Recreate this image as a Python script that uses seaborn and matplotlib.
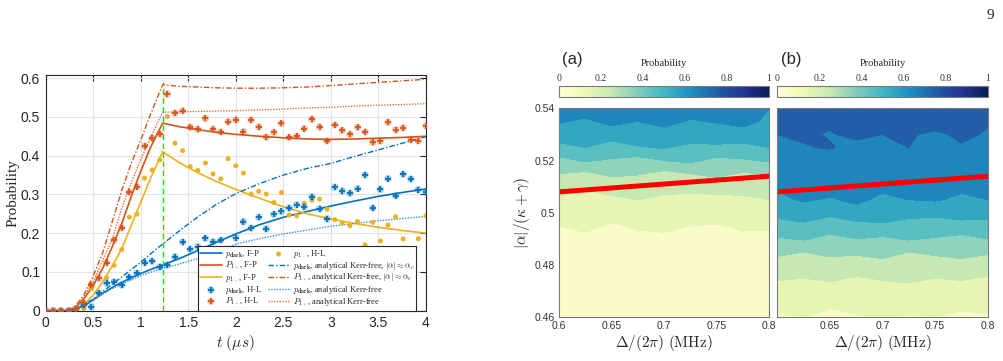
import numpy as np
import seaborn as sns
import matplotlib
matplotlib.use("Agg")
import matplotlib.pyplot as plt
from matplotlib.legend_handler import HandlerTuple
from matplotlib.cm import ScalarMappable
from matplotlib.colors import Normalize

# ---------------- data: left panel ----------------
t_pts = np.round(np.arange(0, 4.0001, 0.08), 2)   # H-L sampling times (51 points)

p_dark_hl = [0, 0, 0, 0, 0.004, 0.014, 0.01, 0.045, 0.071, 0.075, 0.066, 0.086, 0.097, 0.124, 0.128, 0.113,
             0.118, 0.139, 0.177, 0.159, 0.165, 0.187, 0.178, 0.182, 0.158, 0.188, 0.230, 0.213, 0.241, 0.211,
             0.249, 0.256, 0.265, 0.273, 0.268, 0.294, 0.263, 0.237, 0.319, 0.309, 0.303, 0.315, 0.350, 0.265,
             0.313, 0.341, 0.297, 0.352, 0.340, 0.312, 0.306]
p1p_hl = [0, 0, 0, 0, 0.005, 0.019, 0.066, 0.084, 0.124, 0.182, 0.214, 0.306, 0.320, 0.425, 0.445, 0.456,
          0.559, 0.510, 0.516, 0.473, 0.468, 0.496, 0.468, 0.461, 0.488, 0.492, 0.462, 0.492, 0.474, 0.448,
          0.460, 0.483, 0.447, 0.450, 0.470, 0.494, 0.474, 0.438, 0.479, 0.465, 0.455, 0.473, 0.461, 0.434,
          0.438, 0.486, 0.467, 0.472, 0.441, 0.438, 0.477]
p1m_hl = [0, 0, 0, 0, 0, 0.005, 0.057, 0.043, 0.085, 0.117, 0.158, 0.241, 0.249, 0.342, 0.363, 0.389,
          0.501, 0.432, 0.413, 0.372, 0.362, 0.381, 0.353, 0.340, 0.392, 0.374, 0.355, 0.301, 0.308, 0.301,
          0.279, 0.305, 0.247, 0.245, 0.277, 0.285, 0.288, 0.262, 0.235, 0.226, 0.219, 0.230, 0.170, 0.228,
          0.180, 0.221, 0.242, 0.185, 0.152, 0.186, 0.245]

t_curve = [0, 0.2, 0.3, 0.4, 0.5, 0.6, 0.7, 0.8, 0.9, 1.0, 1.1, 1.23,
           1.4, 1.6, 1.8, 2.0, 2.25, 2.5, 2.75, 3.0, 3.25, 3.5, 3.75, 4.0]
p_dark_fp = [0, 0, 0.003, 0.012, 0.028, 0.045, 0.060, 0.073, 0.085, 0.096, 0.106, 0.118,
             0.134, 0.155, 0.177, 0.198, 0.222, 0.241, 0.256, 0.270, 0.283, 0.295, 0.305, 0.314]
p1p_fp = [0, 0, 0.005, 0.030, 0.065, 0.110, 0.165, 0.225, 0.295, 0.360, 0.420, 0.484,
          0.475, 0.467, 0.460, 0.455, 0.450, 0.446, 0.443, 0.442, 0.443, 0.445, 0.447, 0.450]
p1m_fp = [0, 0, 0.002, 0.015, 0.040, 0.075, 0.115, 0.160, 0.220, 0.280, 0.340, 0.410,
          0.383, 0.356, 0.333, 0.313, 0.290, 0.268, 0.250, 0.237, 0.225, 0.215, 0.207, 0.200]
p_dark_ac = [0, 0, 0.003, 0.014, 0.030, 0.050, 0.068, 0.087, 0.106, 0.125, 0.146, 0.172,
             0.205, 0.242, 0.275, 0.302, 0.328, 0.350, 0.367, 0.380, 0.398, 0.415, 0.432, 0.449]
p1p_ac = [0, 0, 0.008, 0.040, 0.090, 0.150, 0.230, 0.310, 0.380, 0.440, 0.505, 0.583,
          0.579, 0.577, 0.575, 0.574, 0.574, 0.575, 0.577, 0.581, 0.585, 0.589, 0.593, 0.597]
p_dark_kf = [0, 0, 0.003, 0.012, 0.027, 0.043, 0.057, 0.069, 0.080, 0.090, 0.099, 0.109,
             0.120, 0.135, 0.150, 0.172, 0.186, 0.198, 0.208, 0.218, 0.225, 0.232, 0.238, 0.243]
p1p_kf = [0, 0, 0.006, 0.035, 0.075, 0.130, 0.185, 0.265, 0.330, 0.390, 0.445, 0.512,
          0.513, 0.514, 0.515, 0.516, 0.518, 0.520, 0.523, 0.525, 0.528, 0.530, 0.532, 0.534]

pulse_end = 1.23
pulse_top = 0.59

x_ticks = [0, 0.5, 1, 1.5, 2, 2.5, 3, 3.5, 4]
x_tick_labels = ['0', '0.5', '1', '1.5', '2', '2.5', '3', '3.5', '4']
y_ticks = [0, 0.1, 0.2, 0.3, 0.4, 0.5, 0.6]
y_tick_labels = ['0', '0.1', '0.2', '0.3', '0.4', '0.5', '0.6']

# ---------------- data: right panels ----------------
delta_cols = [0.6, 0.625, 0.65, 0.675, 0.7, 0.725, 0.75, 0.775, 0.8]
alpha_rows = [0.54, 0.535, 0.53, 0.525, 0.52, 0.515, 0.51, 0.505, 0.5,
              0.495, 0.49, 0.485, 0.48, 0.475, 0.47, 0.465, 0.46]
prob_a = [
    [0.63, 0.66, 0.62, 0.65, 0.61, 0.64, 0.66, 0.62, 0.60],
    [0.61, 0.58, 0.63, 0.60, 0.64, 0.59, 0.61, 0.63, 0.58],
    [0.55, 0.58, 0.54, 0.57, 0.55, 0.59, 0.53, 0.56, 0.54],
    [0.47, 0.50, 0.46, 0.49, 0.51, 0.46, 0.49, 0.47, 0.50],
    [0.37, 0.41, 0.39, 0.36, 0.40, 0.42, 0.37, 0.39, 0.41],
    [0.30, 0.28, 0.32, 0.31, 0.27, 0.30, 0.33, 0.29, 0.31],
    [0.23, 0.21, 0.24, 0.22, 0.25, 0.21, 0.23, 0.26, 0.24],
    [0.19, 0.17, 0.18, 0.20, 0.17, 0.19, 0.18, 0.17, 0.20],
    [0.14, 0.16, 0.13, 0.15, 0.12, 0.14, 0.16, 0.13, 0.15],
    [0.10, 0.12, 0.09, 0.11, 0.13, 0.10, 0.09, 0.12, 0.11],
    [0.07, 0.08, 0.06, 0.08, 0.07, 0.09, 0.06, 0.07, 0.08],
    [0.05, 0.06, 0.05, 0.04, 0.06, 0.05, 0.04, 0.05, 0.06],
    [0.04, 0.05, 0.04, 0.04, 0.05, 0.04, 0.05, 0.04, 0.04],
    [0.04, 0.04, 0.03, 0.04, 0.04, 0.03, 0.04, 0.04, 0.03],
    [0.03, 0.04, 0.03, 0.03, 0.04, 0.03, 0.03, 0.04, 0.03],
    [0.03, 0.03, 0.03, 0.04, 0.03, 0.03, 0.04, 0.03, 0.03],
    [0.03, 0.03, 0.02, 0.03, 0.03, 0.03, 0.02, 0.03, 0.03],
]
prob_b = [
    [0.77, 0.74, 0.78, 0.75, 0.73, 0.77, 0.76, 0.74, 0.72],
    [0.73, 0.76, 0.72, 0.74, 0.77, 0.72, 0.75, 0.73, 0.71],
    [0.70, 0.72, 0.69, 0.73, 0.70, 0.71, 0.68, 0.72, 0.69],
    [0.67, 0.69, 0.71, 0.66, 0.68, 0.70, 0.67, 0.69, 0.66],
    [0.65, 0.67, 0.64, 0.68, 0.65, 0.63, 0.66, 0.64, 0.67],
    [0.63, 0.65, 0.62, 0.64, 0.66, 0.62, 0.64, 0.61, 0.63],
    [0.61, 0.62, 0.64, 0.61, 0.62, 0.63, 0.60, 0.62, 0.61],
    [0.58, 0.61, 0.59, 0.62, 0.58, 0.60, 0.61, 0.58, 0.60],
    [0.53, 0.55, 0.52, 0.56, 0.53, 0.54, 0.51, 0.55, 0.53],
    [0.46, 0.48, 0.45, 0.47, 0.49, 0.45, 0.48, 0.46, 0.47],
    [0.39, 0.41, 0.37, 0.40, 0.38, 0.41, 0.39, 0.37, 0.40],
    [0.32, 0.30, 0.33, 0.31, 0.34, 0.30, 0.32, 0.33, 0.31],
    [0.26, 0.28, 0.25, 0.27, 0.26, 0.28, 0.25, 0.27, 0.26],
    [0.21, 0.20, 0.22, 0.19, 0.21, 0.23, 0.20, 0.21, 0.19],
    [0.16, 0.17, 0.15, 0.17, 0.16, 0.15, 0.17, 0.16, 0.18],
    [0.12, 0.13, 0.11, 0.13, 0.12, 0.14, 0.11, 0.12, 0.13],
    [0.09, 0.10, 0.08, 0.09, 0.11, 0.09, 0.10, 0.08, 0.09],
]
threshold_delta = [0.6, 0.8]
threshold_alpha = [0.508, 0.514]
cbar_ticks = [0, 0.2, 0.4, 0.6, 0.8, 1]
cbar_tick_labels = ['0', '0.2', '0.4', '0.6', '0.8', '1']
r_x_ticks = [0.6, 0.65, 0.7, 0.75, 0.8]
r_x_labels = ['0.6', '0.65', '0.7', '0.75', '0.8']
r_y_ticks = [0.46, 0.48, 0.5, 0.52, 0.54]
r_y_labels = ['0.46', '0.48', '0.5', '0.52', '0.54']

# ---------------- style ----------------
sns.set_style("white")
plt.rcParams['font.family'] = ['Liberation Sans', 'DejaVu Sans']
plt.rcParams['font.serif'] = ['Liberation Serif', 'DejaVu Serif']
plt.rcParams['mathtext.fontset'] = 'cm'

C_BLUE = '#0072bd'
C_RED = '#d95319'
C_YEL = '#edb120'
SERIF = ['Liberation Serif', 'DejaVu Serif']

fig = plt.figure(figsize=(10.04, 3.61), dpi=100)

# ---------------- left panel ----------------
ax = fig.add_axes([0.0455, 0.1393, 0.3788, 0.6529])
h = {}
sns.lineplot(x=t_curve, y=p_dark_fp, color=C_BLUE, lw=1.2, ax=ax); h['dfp'] = ax.lines[-1]
sns.lineplot(x=t_curve, y=p1p_fp, color=C_RED, lw=1.2, ax=ax); h['pfp'] = ax.lines[-1]
sns.lineplot(x=t_curve, y=p1m_fp, color=C_YEL, lw=1.2, ax=ax); h['mfp'] = ax.lines[-1]
sns.lineplot(x=t_curve, y=p_dark_ac, color=C_BLUE, lw=1.0, linestyle=(0, (4, 1.5, 1, 1.5)), ax=ax); h['dac'] = ax.lines[-1]
sns.lineplot(x=t_curve, y=p1p_ac, color=C_RED, lw=1.0, linestyle=(0, (4, 1.5, 1, 1.5)), ax=ax); h['pac'] = ax.lines[-1]
sns.lineplot(x=t_curve, y=p_dark_kf, color='#3a90d0', lw=1.0, linestyle=(0, (1, 1)), ax=ax); h['dkf'] = ax.lines[-1]
sns.lineplot(x=t_curve, y=p1p_kf, color='#e8703a', lw=1.0, linestyle=(0, (1, 1)), ax=ax); h['pkf'] = ax.lines[-1]

ax.plot([pulse_end, pulse_end], [0, pulse_top], color='#00ee00', ls=(0, (4, 2.5)), lw=1.0, zorder=3)

sns.scatterplot(x=t_pts, y=p1m_hl, color=C_YEL, s=13, edgecolor='none', ax=ax, zorder=4)
h['mhl'] = ax.collections[-1]
for name, vals, col in [('dhl', p_dark_hl, C_BLUE), ('phl', p1p_hl, C_RED)]:
    sns.scatterplot(x=t_pts, y=vals, color=col, s=28, alpha=0.35, edgecolor='none', ax=ax, zorder=5)
    halo = ax.collections[-1]
    sns.scatterplot(x=t_pts, y=vals, color=col, marker='+', s=22, linewidth=1.3, ax=ax, zorder=6)
    h[name] = (halo, ax.collections[-1])

ax.set_xlim(0, 4)
ax.set_ylim(0, 0.608)
ax.set_xticks(x_ticks)
ax.set_xticklabels(x_tick_labels)
ax.set_yticks(y_ticks)
ax.set_yticklabels(y_tick_labels)
ax.tick_params(direction='in', top=True, right=True, length=4, width=0.8, labelsize=10,
               colors='#262626', pad=4)
ax.grid(True, color='#e3e3e3', lw=0.8)
for s in ax.spines.values():
    s.set_color('#262626')
    s.set_linewidth(0.8)
ax.set_ylabel('Probability', family=SERIF, fontsize=11, labelpad=1)
ax.set_xlabel(r'$t\ (\mu s)$', fontsize=11, labelpad=2)

handles = [h['dfp'], h['pfp'], h['mfp'], h['dhl'], h['phl'],
           h['mhl'], h['dac'], h['pac'], h['dkf'], h['pkf']]
labels = [r'$p_{\mathbf{dark}}$, F-P', r'$P_{\mathbf{1_+}}$, F-P', r'$p_{1_-}$, F-P',
          r'$p_{\mathbf{dark}}$, H-L', r'$P_{\mathbf{1_+}}$, H-L',
          r'$p_{1_-}$, H-L',
          r'$p_{\mathbf{dark}}$, analytical Kerr-free, $|\alpha|\approx\alpha_c$',
          r'$P_{\mathbf{1_+}}$, analytical Kerr-free, $|\alpha|\approx\alpha_c$',
          r'$p_{\mathbf{dark}}$, analytical Kerr-free',
          r'$P_{\mathbf{1_+}}$, analytical Kerr-free']
leg = ax.legend(handles, labels, ncol=2, loc='lower right', bbox_to_anchor=(0.975, 0.0),
                borderaxespad=0, prop={'family': SERIF, 'size': 6.1}, frameon=True, fancybox=False,
                edgecolor='#262626', framealpha=1, handlelength=2.6, handletextpad=0.35,
                columnspacing=0.7, labelspacing=0.0, borderpad=0.25,
                handler_map={tuple: HandlerTuple(ndivide=1, pad=0)})
leg.get_frame().set_linewidth(0.8)
leg.set_zorder(10)

# ---------------- right panels ----------------
cmap = sns.color_palette("YlGnBu", as_cmap=True)
levels = np.linspace(0, 1, 11)
panels = [(0.5565, prob_a, '(a)'), (0.7742, prob_b, '(b)')]
for k, (left, grid, tag) in enumerate(panels):
    axr = fig.add_axes([left, 0.1211, 0.2095, 0.5789])
    axr.contourf(delta_cols, alpha_rows[::-1], np.flipud(np.array(grid)), levels=levels,
                 cmap=cmap, vmin=0, vmax=1)
    sns.lineplot(x=threshold_delta, y=threshold_alpha, color='#ff0000', lw=3.6, ax=axr)
    axr.set_xlim(0.6, 0.8)
    axr.set_ylim(0.46, 0.54)
    axr.set_xticks(r_x_ticks)
    axr.set_yticks(r_y_ticks)
    if k == 0:
        axr.set_xticklabels(r_x_labels)
        axr.set_yticklabels(r_y_labels)
        axr.set_ylabel(r'$|\alpha|/(\kappa+\gamma)$', fontsize=11, labelpad=2)
    else:
        axr.set_xticklabels([''] + r_x_labels[1:])
        axr.set_yticklabels([])
    axr.set_xlabel(r'$\Delta/(2\pi)\ (\mathrm{MHz})$', fontsize=11, labelpad=1)
    axr.tick_params(direction='in', top=True, right=True, length=3, width=0.6, labelsize=7.5,
                    colors='#333333', pad=3)
    for s in axr.spines.values():
        s.set_color('#7a7a7a')
        s.set_linewidth(0.8)

    cax = fig.add_axes([left, 0.7305, 0.2095, 0.0321])
    cb = fig.colorbar(ScalarMappable(norm=Normalize(0, 1), cmap=cmap), cax=cax,
                      orientation='horizontal', ticks=cbar_ticks)
    cax.xaxis.set_ticks_position('top')
    cax.xaxis.set_label_position('top')
    cax.set_xticklabels(cbar_tick_labels, family=SERIF)
    cax.tick_params(direction='in', length=2.5, width=0.6, labelsize=7, colors='#333333', pad=2)
    cax.set_xlabel('Probability', family=SERIF, fontsize=7.5, labelpad=6)
    cb.outline.set_edgecolor('#7a7a7a')
    cb.outline.set_linewidth(0.8)
    fig.text(left + 0.0135, 0.834, tag, fontsize=12, ha='center', va='center')

fig.text(0.986, 0.958, '9', family=SERIF, fontsize=11, ha='center', va='center')

fig.savefig('out.png', dpi=100)
